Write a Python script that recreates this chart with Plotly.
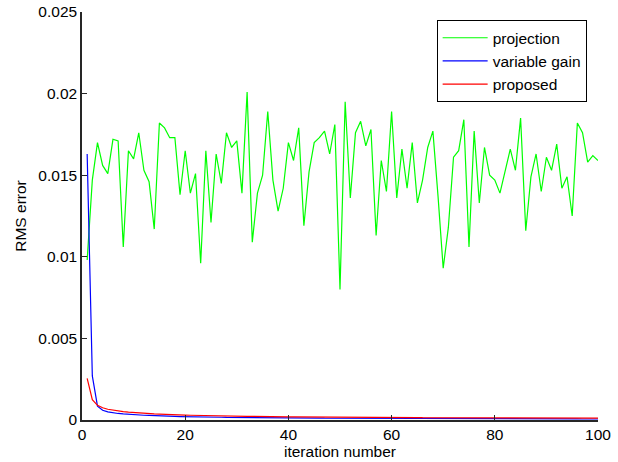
import plotly.graph_objects as go

iterations = list(range(1, 101))

projection = [
    0.0098, 0.0147, 0.0170, 0.0156, 0.0151, 0.0172, 0.0171, 0.0106, 0.0165, 0.0160,
    0.0176, 0.0153, 0.0146, 0.0117, 0.0182, 0.0179, 0.0173, 0.0173, 0.0138, 0.0165,
    0.0139, 0.0151, 0.0096, 0.0165, 0.0121, 0.0163, 0.0145, 0.0176, 0.0167, 0.0171,
    0.0139, 0.0201, 0.0109, 0.0139, 0.0150, 0.0189, 0.0147, 0.0128, 0.0142, 0.0170,
    0.0159, 0.0179, 0.0119, 0.0152, 0.0170, 0.0173, 0.0177, 0.0163, 0.0181, 0.0080,
    0.0195, 0.0136, 0.0176, 0.0183, 0.0168, 0.0178, 0.0113, 0.0159, 0.0140, 0.0189,
    0.0136, 0.0166, 0.0142, 0.0170, 0.0133, 0.0147, 0.0167, 0.0177, 0.0137, 0.0093,
    0.0118, 0.0161, 0.0165, 0.0184, 0.0106, 0.0177, 0.0133, 0.0167, 0.0150, 0.0147,
    0.0139, 0.0153, 0.0166, 0.0153, 0.0185, 0.0116, 0.0149, 0.0163, 0.0140, 0.0161,
    0.0153, 0.0169, 0.0142, 0.0149, 0.0125, 0.0182, 0.0176, 0.0158, 0.0162, 0.0159,
]

variable_gain = [
    0.01630, 0.00270, 0.00085, 0.00060, 0.00050, 0.00044, 0.00040, 0.00037, 0.00034, 0.00032,
    0.00030, 0.00029, 0.00028, 0.00026, 0.00025, 0.00024, 0.00023, 0.00022, 0.00021, 0.00021,
    0.00020, 0.00019, 0.00019, 0.00018, 0.00018, 0.00017, 0.00017, 0.00016, 0.00016, 0.00016,
    0.00015, 0.00015, 0.00015, 0.00014, 0.00014, 0.00014, 0.00014, 0.00013, 0.00013, 0.00013,
    0.00013, 0.00012, 0.00012, 0.00012, 0.00012, 0.00012, 0.00011, 0.00011, 0.00011, 0.00011,
    0.00011, 0.00011, 0.00010, 0.00010, 0.00010, 0.00010, 0.00010, 0.00010, 0.00010, 0.00010,
    0.00009, 0.00009, 0.00009, 0.00009, 0.00009, 0.00009, 0.00009, 0.00009, 0.00009, 0.00009,
    0.00008, 0.00008, 0.00008, 0.00008, 0.00008, 0.00008, 0.00008, 0.00008, 0.00008, 0.00008,
    0.00008, 0.00008, 0.00007, 0.00007, 0.00007, 0.00007, 0.00007, 0.00007, 0.00007, 0.00007,
    0.00007, 0.00007, 0.00007, 0.00007, 0.00007, 0.00007, 0.00006, 0.00006, 0.00006, 0.00006,
]

proposed = [
    0.00255, 0.00125, 0.00090, 0.00075, 0.00066, 0.00060, 0.00055, 0.00051, 0.00048, 0.00045,
    0.00043, 0.00041, 0.00039, 0.00037, 0.00036, 0.00034, 0.00033, 0.00032, 0.00031, 0.00030,
    0.00029, 0.00028, 0.00027, 0.00027, 0.00026, 0.00025, 0.00025, 0.00024, 0.00024, 0.00023,
    0.00023, 0.00022, 0.00022, 0.00021, 0.00021, 0.00021, 0.00020, 0.00020, 0.00020, 0.00019,
    0.00019, 0.00019, 0.00018, 0.00018, 0.00018, 0.00018, 0.00017, 0.00017, 0.00017, 0.00017,
    0.00016, 0.00016, 0.00016, 0.00016, 0.00016, 0.00016, 0.00015, 0.00015, 0.00015, 0.00015,
    0.00015, 0.00015, 0.00015, 0.00015, 0.00015, 0.00014, 0.00014, 0.00014, 0.00014, 0.00014,
    0.00014, 0.00014, 0.00014, 0.00014, 0.00014, 0.00013, 0.00013, 0.00013, 0.00013, 0.00013,
    0.00013, 0.00013, 0.00013, 0.00013, 0.00013, 0.00012, 0.00012, 0.00012, 0.00012, 0.00012,
    0.00012, 0.00012, 0.00012, 0.00012, 0.00012, 0.00011, 0.00011, 0.00011, 0.00011, 0.00011,
]

x_ticks = [0, 20, 40, 60, 80, 100]
y_ticks = [0, 0.005, 0.01, 0.015, 0.02, 0.025]
y_tick_text = ["0", "0.005", "0.01", "0.015", "0.02", "0.025"]

font = dict(family="Liberation Sans, Arial, sans-serif", size=15.5, color="#000000")

fig = go.Figure()
fig.add_trace(go.Scatter(x=iterations, y=projection, mode="lines", name="projection",
                         line=dict(color="#00ff00", width=1.2)))
fig.add_trace(go.Scatter(x=iterations, y=variable_gain, mode="lines", name="variable gain",
                         line=dict(color="#0000ff", width=1.2)))
fig.add_trace(go.Scatter(x=iterations, y=proposed, mode="lines", name="proposed",
                         line=dict(color="#ff0000", width=1.2)))

axis_common = dict(
    showgrid=False, zeroline=False, showline=True, linecolor="#262626", linewidth=1.5,
    ticks="inside", ticklen=5, tickcolor="#262626", tickfont=font, automargin=False,
)

fig.update_layout(
    width=618, height=462,
    margin=dict(l=82, r=20, t=12, b=42),
    paper_bgcolor="white", plot_bgcolor="white",
    font=font,
    xaxis=dict(range=[0, 100], tickvals=x_ticks, **axis_common,
               title=dict(text="iteration number", font=font, standoff=2)),
    yaxis=dict(range=[0, 0.025], tickvals=y_ticks, ticktext=y_tick_text, **axis_common,
               title=dict(text="RMS error", font=font, standoff=8)),
    legend=dict(x=0.978, y=0.98, xanchor="right", yanchor="top",
                bgcolor="white", bordercolor="#000000", borderwidth=1,
                font=font, tracegroupgap=0, itemwidth=45),
    showlegend=True,
)

fig.write_html("out.html")
